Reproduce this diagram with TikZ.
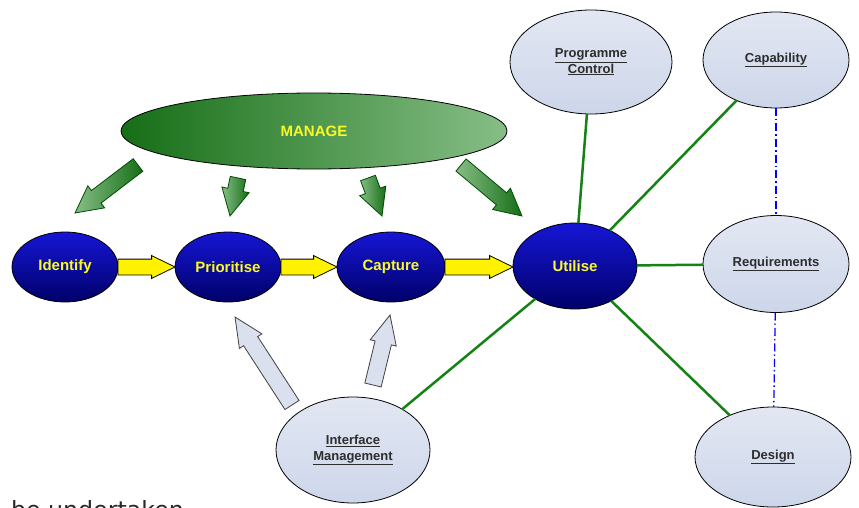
\documentclass[tikz,border=0pt]{standalone}
\usepackage{fontspec}
\setmainfont{Liberation Sans}
\newfontfamily\pagefont{DejaVu Sans}
\usetikzlibrary{shapes.geometric,shapes.arrows,calc}

\definecolor{stageblue}{RGB}{22,22,214}
\definecolor{stagenavy}{RGB}{0,0,105}
\definecolor{stagetext}{RGB}{250,250,40}
\definecolor{managedark}{RGB}{22,110,22}
\definecolor{managemid}{RGB}{45,135,45}
\definecolor{managelight}{RGB}{135,190,135}
\definecolor{areafill}{RGB}{226,231,242}
\definecolor{areashade}{RGB}{205,214,234}
\definecolor{areatext}{RGB}{45,45,45}
\definecolor{linkgreen}{RGB}{20,130,20}
\definecolor{feedfill}{RGB}{218,224,238}

\newcommand{\fatarrow}[3]{%
\path let \p1=(#2), \p2=(#3), \n1={atan2(\y2-\y1,\x2-\x1)}, \n2={veclen(\x2-\x1,\y2-\y1)}
  in node[#1, minimum height=\n2, rotate=\n1, anchor=tail] at (\p1) {};}

\begin{document}
\begin{tikzpicture}[x=1pt,y=-1pt,
  every node/.style={outer sep=0pt, inner sep=0pt},
  manage/.style={ellipse, draw=black, line width=0.8pt, left color=managedark, middle color=managemid, right color=managelight, text=stagetext, font=\fontsize{15}{18}\selectfont\bfseries},
  stage/.style={ellipse, draw=black, line width=0.8pt, top color=stageblue, middle color=stageblue, bottom color=stagenavy, text=stagetext, font=\fontsize{15}{18}\selectfont\bfseries},
  area/.style={ellipse, draw=black, line width=0.8pt, top color=areafill, bottom color=areashade, text=areatext, align=center, font=\fontsize{13}{15.5}\selectfont\bfseries},
  link/.style={line width=2.5pt, draw=linkgreen},
  peer/.style={line width=1.3pt, draw=blue, dash pattern=on 8pt off 3pt on 1.5pt off 3pt},
  flow/.style={single arrow, draw=black, line width=0.8pt, fill=yellow, inner xsep=0pt, inner ysep=7.5pt, single arrow head extend=3.5pt, single arrow tip angle=52},
  steer/.style={single arrow, draw=black!70!green, line width=0.8pt, left color=managelight, right color=managedark, inner xsep=0pt, inner ysep=7.5pt, single arrow head extend=6pt, single arrow tip angle=55},
  feed/.style={single arrow, draw=black!75, line width=0.8pt, fill=feedfill, inner xsep=0pt, inner ysep=8pt, single arrow head extend=5pt, single arrow tip angle=50}
]
\useasboundingbox (0,0) rectangle (859,508);

\node[manage, minimum width=386, minimum height=76] (manage) at (314,131) {MANAGE};
\node[stage, minimum width=106, minimum height=70] (identify) at (65,267) {Identify};
\node[stage, minimum width=106, minimum height=70] (prioritise) at (228,267) {Prioritise};
\node[stage, minimum width=108, minimum height=70] (capture) at (391,267) {Capture};
\node[stage, minimum width=124, minimum height=86] (utilise) at (575,266) {Utilise};

\node[area, minimum width=162, minimum height=104] (programme) at (591,62) {\underline{Programme}\\\underline{Control}};
\node[area, minimum width=146, minimum height=96] (capability) at (776,60) {\underline{Capability}};
\node[area, minimum width=146, minimum height=97] (requirements) at (776,264) {\underline{Requirements}};
\node[area, minimum width=156, minimum height=100] (design) at (773,457) {\underline{Design}};
\node[area, minimum width=154, minimum height=106] (interface) at (353,450) {\underline{Interface}\\\underline{Management}};

\draw[link] (utilise) -- (programme);
\draw[link] (utilise) -- (capability);
\draw[link] (utilise) -- (requirements);
\draw[link] (utilise) -- (design);
\draw[link] (utilise) -- (interface);
\draw[peer] (capability) -- (requirements);
\draw[peer] (requirements) -- (design);

\fatarrow{flow}{identify.east}{prioritise.west}
\fatarrow{flow}{prioritise.east}{capture.west}
\fatarrow{flow}{capture.east}{capture.east -| utilise.west}

\coordinate (steer1a) at (138,165);
\coordinate (steer1b) at (75,213);
\coordinate (steer2a) at (238,178);
\coordinate (steer2b) at (230,216);
\coordinate (steer3a) at (368,178);
\coordinate (steer3b) at (382,216);
\coordinate (steer4a) at (461,165);
\coordinate (steer4b) at (522,216);
\fatarrow{steer}{steer1a}{steer1b}
\fatarrow{steer}{steer2a}{steer2b}
\fatarrow{steer}{steer3a}{steer3b}
\fatarrow{steer}{steer4a}{steer4b}

\coordinate (feed1a) at (292,405);
\coordinate (feed1b) at (235,317);
\coordinate (feed2a) at (373,385);
\coordinate (feed2b) at (390,315);
\fatarrow{feed}{feed1a}{feed1b}
\fatarrow{feed}{feed2a}{feed2b}

\node[anchor=base west, font=\pagefont\fontsize{23.7}{28}\selectfont, text=black!85] (note) at (11,518) {be undertaken};
\end{tikzpicture}
\end{document}
